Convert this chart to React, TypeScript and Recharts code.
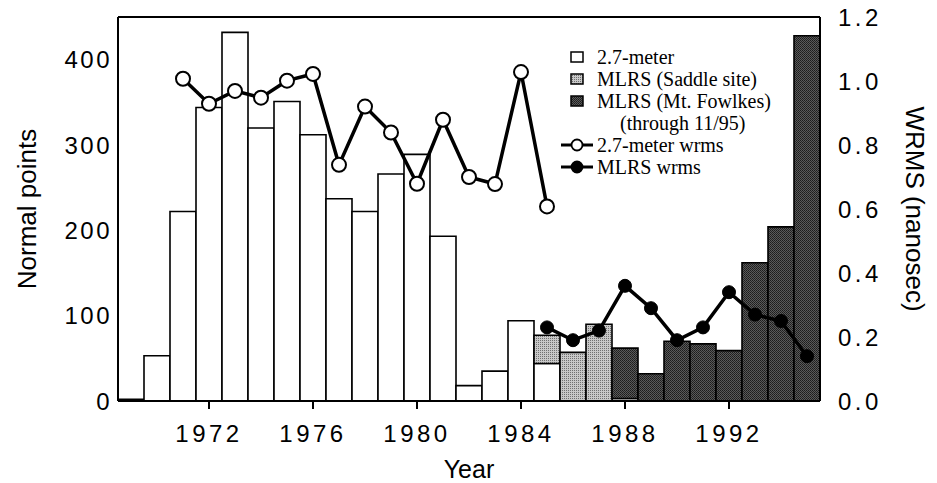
import React from "react";
import {
  ComposedChart,
  Bar,
  Line,
  XAxis,
  YAxis,
} from "recharts";

// Years on the category axis, one bar slot per year
const years = [
  1969, 1970, 1971, 1972, 1973, 1974, 1975, 1976, 1977, 1978, 1979, 1980,
  1981, 1982, 1983, 1984, 1985, 1986, 1987, 1988, 1989, 1990, 1991, 1992,
  1993, 1994, 1995,
];

// Normal points per year (stacked)
const m27Points = [
  2, 53, 222, 344, 432, 320, 351, 312, 237, 222, 266, 289, 193, 18, 35, 94,
  44, null, null, 3, null, null, null, null, null, null, null,
];
const saddlePoints = [
  null, null, null, null, null, null, null, null, null, null, null, null,
  null, null, null, null, 33, 57, 90, null, null, null, null, null, null,
  null, null,
];
const fowlkesPoints = [
  null, null, null, null, null, null, null, null, null, null, null, null,
  null, null, null, null, null, null, null, 59, 32, 70, 67, 59, 162, 204, 428,
];

// WRMS in nanoseconds
const m27Wrms = [
  null, null, 1.007, 0.929, 0.969, 0.948, 1.001, 1.022, 0.738, 0.92, 0.839,
  0.679, 0.879, 0.7, 0.678, 1.028, 0.608, null, null, null, null, null, null,
  null, null, null, null,
];
const mlrsWrms = [
  null, null, null, null, null, null, null, null, null, null, null, null,
  null, null, null, null, 0.23, 0.19, 0.22, 0.36, 0.29, 0.19, 0.23, 0.34,
  0.27, 0.25, 0.14,
];

const yearTicks = [1972, 1976, 1980, 1984, 1988, 1992];
const pointTicks = [0, 100, 200, 300, 400];
const innerTicks = [100, 200, 300, 400];
const wrmsTicks = [0, 0.2, 0.4, 0.6, 0.8, 1.0, 1.2];

const data = years.map((year, i) => ({
  year,
  m27: m27Points[i],
  saddle: saddlePoints[i],
  fowlkes: fowlkesPoints[i],
  m27Wrms: m27Wrms[i],
  mlrsWrms: mlrsWrms[i],
}));

const SANS = "'Liberation Sans', Arial, sans-serif";
const SERIF = "'Liberation Serif', 'Times New Roman', serif";

const YearTick = (props: any) => {
  const { x, y, payload } = props;
  return (
    <text
      x={x}
      y={y + 33}
      textAnchor="middle"
      fontFamily={SANS}
      fontSize={24}
      letterSpacing={3.5}
      fill="#000"
    >
      {payload.value}
    </text>
  );
};

const PointsTick = (props: any) => {
  const { x, y, payload } = props;
  return (
    <text
      x={x}
      y={y}
      dy="0.355em"
      textAnchor="end"
      fontFamily={SANS}
      fontSize={24}
      letterSpacing={2.5}
      fill="#000"
    >
      {payload.value}
    </text>
  );
};

const WrmsTick = (props: any) => {
  const { x, y, payload } = props;
  return (
    <text
      x={x}
      y={y}
      dy="0.355em"
      textAnchor="start"
      fontFamily={SANS}
      fontSize={24}
      letterSpacing={3.5}
      fill="#000"
    >
      {Number(payload.value).toFixed(1)}
    </text>
  );
};

const SwatchIcon = ({ fill }: { fill: string }) => (
  <svg width={14} height={12} style={{ display: "block" }}>
    <rect x={1} y={1} width={12} height={10} fill={fill} stroke="#000" strokeWidth={1.5} />
  </svg>
);

const LineIcon = ({ open }: { open: boolean }) => (
  <svg width={34} height={14} style={{ display: "block" }}>
    <line x1={1} x2={33} y1={7} y2={7} stroke="#000" strokeWidth={3} />
    <circle
      cx={17}
      cy={7}
      r={5.5}
      fill={open ? "#fff" : "#000"}
      stroke="#000"
      strokeWidth={1.8}
    />
  </svg>
);

const legendRows = [
  { kind: "box", fill: "#fff", label: "2.7-meter" },
  { kind: "box", fill: "url(#saddleTex)", label: "MLRS (Saddle site)" },
  { kind: "box", fill: "url(#fowlkesTex)", label: "MLRS (Mt. Fowlkes)" },
  { kind: "none", fill: "", label: "(through 11/95)" },
  { kind: "open", fill: "", label: "2.7-meter wrms" },
  { kind: "filled", fill: "", label: "MLRS wrms" },
];

const ChartLegend = () => (
  <div
    style={{
      position: "absolute",
      left: 557,
      top: 46,
      fontFamily: SERIF,
      fontSize: 20,
      lineHeight: "22px",
      color: "#000",
    }}
  >
    {legendRows.map((row) => (
      <div key={row.label} style={{ display: "flex", alignItems: "center", height: 22 }}>
        <div style={{ width: 40, display: "flex", justifyContent: "center" }}>
          {row.kind === "box" && <SwatchIcon fill={row.fill} />}
          {row.kind === "open" && <LineIcon open />}
          {row.kind === "filled" && <LineIcon open={false} />}
        </div>
        <span style={{ paddingLeft: row.kind === "none" ? 23 : 0, whiteSpace: "nowrap" }}>
          {row.label}
        </span>
      </div>
    ))}
  </div>
);

export default function App() {
  return (
    <div style={{ position: "absolute", left: 0, top: 0, width: 937, height: 483, background: "#fff" }}>
      <ComposedChart
        width={937}
        height={483}
        data={data}
        margin={{ top: 16, right: 0, bottom: 0, left: 0 }}
        barCategoryGap={0}
        barGap={0}
      >
        <defs>
          <pattern id="saddleTex" width={2} height={2} patternUnits="userSpaceOnUse">
            <rect width={2} height={2} fill="#c8c8c8" />
            <rect width={1} height={1} fill="#707070" />
          </pattern>
          <pattern id="fowlkesTex" width={2} height={2} patternUnits="userSpaceOnUse">
            <rect width={2} height={2} fill="#5a5a5a" />
            <rect width={1} height={1} fill="#1c1c1c" />
            <rect x={1} y={1} width={1} height={1} fill="#262626" />
          </pattern>
        </defs>
        <XAxis
          dataKey="year"
          type="category"
          ticks={yearTicks}
          interval={0}
          height={82}
          stroke="#000"
          tickLine={{ stroke: "#000", strokeWidth: 2 }}
          tickSize={8}
          tickMargin={0}
          tick={<YearTick />}
          axisLine={{ stroke: "#000", strokeWidth: 2 }}
          label={{
            value: "Year",
            position: "center",
            dy: 27,
            fontFamily: SANS,
            fontSize: 25,
            fill: "#000",
          }}
        />
        <XAxis
          xAxisId="top"
          dataKey="year"
          orientation="top"
          height={1}
          tick={false}
          tickLine={false}
          axisLine={{ stroke: "#000", strokeWidth: 2 }}
        />
        {/* inward tick marks of the left axis */}
        <YAxis
          yAxisId={0}
          mirror
          domain={[0, 450]}
          ticks={innerTicks}
          allowDataOverflow
          width={1}
          stroke="#000"
          tick={false}
          tickSize={18}
          tickLine={{ stroke: "#000", strokeWidth: 2 }}
          axisLine={false}
        />
        <YAxis
          yAxisId="left"
          domain={[0, 450]}
          ticks={pointTicks}
          allowDataOverflow
          width={118}
          tickLine={false}
          tickSize={0}
          tickMargin={6}
          tick={<PointsTick />}
          axisLine={{ stroke: "#000", strokeWidth: 2 }}
          label={{
            value: "Normal points",
            angle: -90,
            position: "center",
            dx: -32,
            fontFamily: SANS,
            fontSize: 26,
            fill: "#000",
          }}
        />
        <YAxis
          yAxisId="right"
          orientation="right"
          domain={[0, 1.2]}
          ticks={wrmsTicks}
          allowDataOverflow
          width={117}
          tickLine={false}
          tickSize={0}
          tickMargin={18}
          tick={<WrmsTick />}
          axisLine={{ stroke: "#000", strokeWidth: 2 }}
          label={{
            value: "WRMS (nanosec)",
            angle: 90,
            position: "center",
            dx: 37,
            fontFamily: SANS,
            fontSize: 26,
            fill: "#000",
          }}
        />
        <Bar
          yAxisId="left"
          dataKey="m27"
          stackId="n"
          fill="#fff"
          stroke="#000"
          strokeWidth={1.6}
          isAnimationActive={false}
        />
        <Bar
          yAxisId="left"
          dataKey="saddle"
          stackId="n"
          fill="url(#saddleTex)"
          stroke="#000"
          strokeWidth={1.6}
          isAnimationActive={false}
        />
        <Bar
          yAxisId="left"
          dataKey="fowlkes"
          stackId="n"
          fill="url(#fowlkesTex)"
          stroke="#000"
          strokeWidth={1.6}
          isAnimationActive={false}
        />
        <Line
          yAxisId="right"
          dataKey="m27Wrms"
          stroke="#000"
          strokeWidth={3.5}
          dot={{ r: 7, fill: "#fff", stroke: "#000", strokeWidth: 2 }}
          isAnimationActive={false}
        />
        <Line
          yAxisId="right"
          dataKey="mlrsWrms"
          stroke="#000"
          strokeWidth={3.5}
          dot={{ r: 6.5, fill: "#000", stroke: "#000", strokeWidth: 1 }}
          isAnimationActive={false}
        />
      </ComposedChart>
      <ChartLegend />
    </div>
  );
}
